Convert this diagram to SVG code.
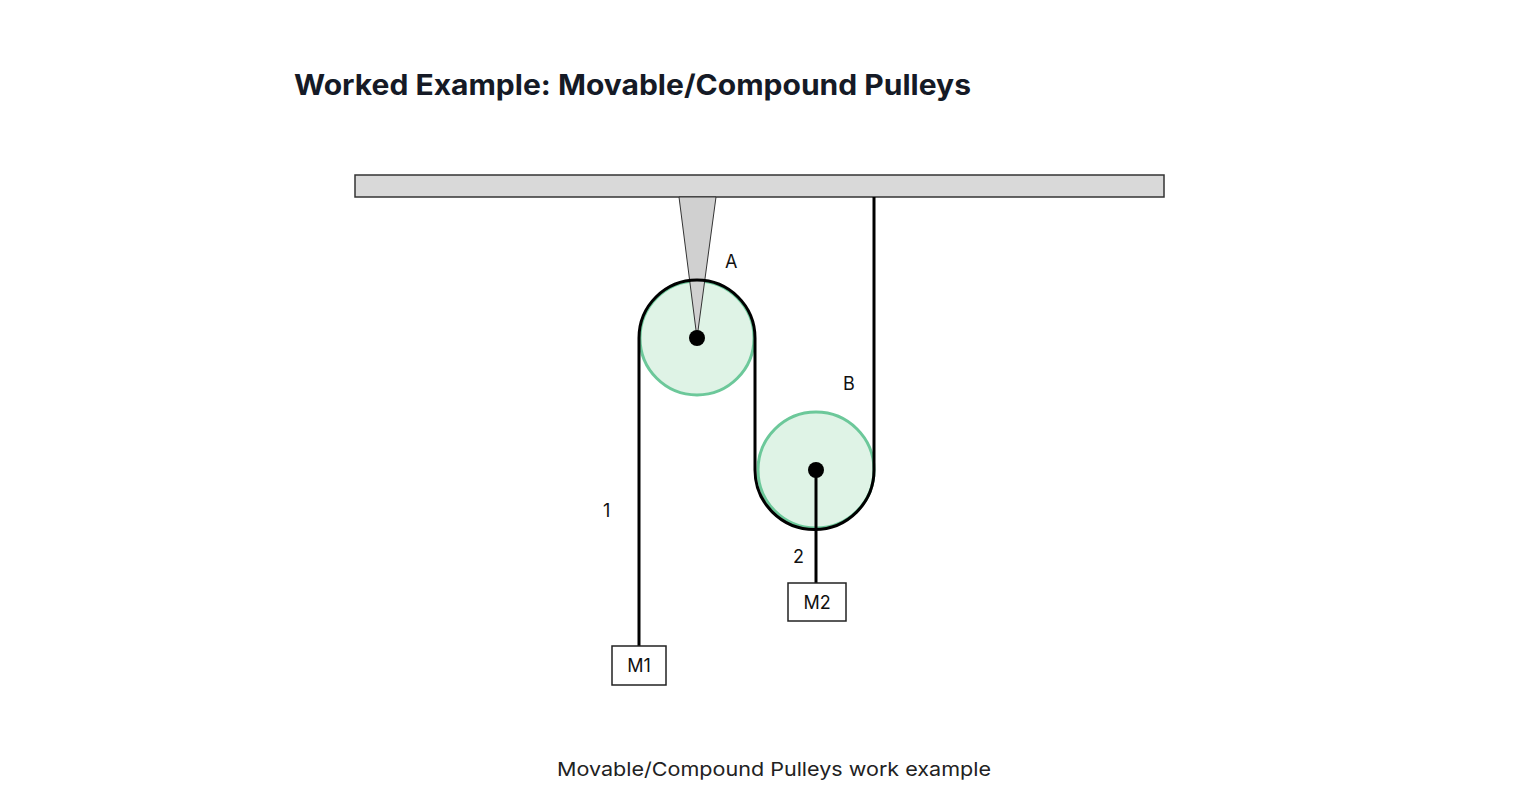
<svg xmlns="http://www.w3.org/2000/svg" width="1520" height="798" viewBox="0 0 1520 798">
<style>
.t{font-family:Inter,"Liberation Sans",sans-serif;fill:#111;font-size:18px}
.rope{fill:none;stroke:#000;stroke-width:3}
.wheel{fill:#dff3e6;stroke:#6cc89a;stroke-width:3}
.box{fill:#fff;stroke:#222;stroke-width:1.5}
</style>
<rect width="1520" height="798" fill="#fff"/>
<text x="294" y="95" textLength="677" lengthAdjust="spacingAndGlyphs" style="font-family:Inter,'Liberation Sans',sans-serif;font-weight:700;font-size:28px;fill:#151a26">Worked Example: Movable/Compound Pulleys</text>
<g id="ceiling"><rect x="355" y="175" width="809" height="22" fill="#d9d9d9" stroke="#333" stroke-width="1.5"/></g>
<g id="pulleyA">
<circle class="wheel" cx="697" cy="338" r="57"/>
<polygon points="679,197 716,197 697,338" fill="#d0d0d0" stroke="#333" stroke-width="1"/>
<circle cx="697" cy="338" r="8" fill="#000"/>
<text class="t" x="725" y="268">A</text>
</g>
<g id="pulleyB">
<circle class="wheel" cx="816" cy="470" r="58"/>
<circle cx="816" cy="470" r="8" fill="#000"/>
<text class="t" x="843" y="390">B</text>
</g>
<g id="connectors">
<path class="rope" d="M639,646 V338 A58,58 0 0 1 755,338 V470 A59.5,59.5 0 0 0 874,470 V197"/>
<line class="rope" x1="816" y1="470" x2="816" y2="583"/>
</g>
<g id="M1"><rect class="box" x="612" y="646" width="54" height="39"/><text class="t" x="639" y="672" text-anchor="middle">M1</text></g>
<g id="M2"><rect class="box" x="788" y="583" width="58" height="38"/><text class="t" x="817" y="609" text-anchor="middle">M2</text></g>
<text class="t" x="603" y="517">1</text>
<text class="t" x="793" y="563">2</text>
<text x="557" y="776" textLength="434" lengthAdjust="spacingAndGlyphs" style="font-family:Inter,'Liberation Sans',sans-serif;font-size:19px;fill:#222">Movable/Compound Pulleys work example</text>
</svg>
